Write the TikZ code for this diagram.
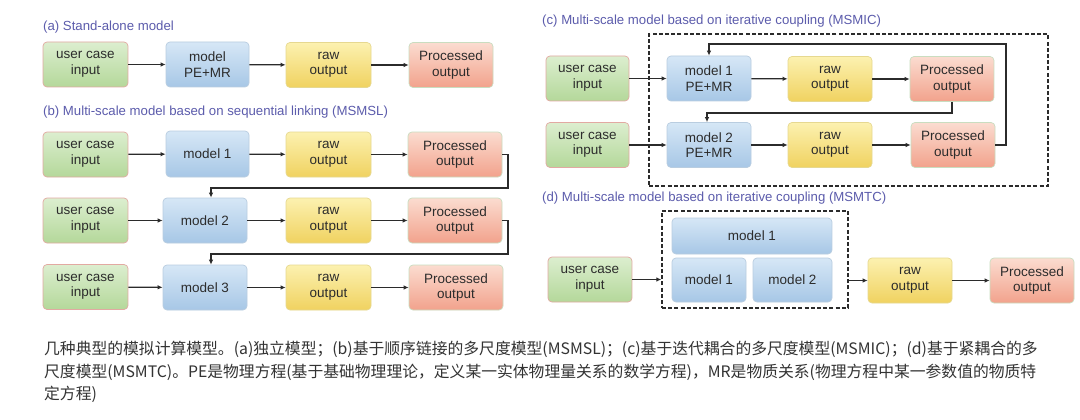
\documentclass[tikz,border=0pt]{standalone}
\usepackage{fontspec}
\setmainfont{Liberation Sans}
\newfontfamily\cjk{Noto Sans CJK SC}
\usetikzlibrary{arrows.meta,shadings}
\definecolor{txt}{HTML}{2C2C2C}
\definecolor{captc}{HTML}{333333}
\definecolor{ttlc}{RGB}{92,92,172}
\definecolor{ucT}{HTML}{DCEECF}
\definecolor{ucB}{HTML}{B4D89A}
\definecolor{ucD}{HTML}{E2A9A2}
\definecolor{mdT}{HTML}{D6E7F6}
\definecolor{mdB}{HTML}{A7C7E6}
\definecolor{mdD}{HTML}{B9CDE0}
\definecolor{rwT}{HTML}{FCF1B0}
\definecolor{rwB}{HTML}{F0D260}
\definecolor{rwD}{HTML}{E6D890}
\definecolor{prT}{HTML}{FBDCD0}
\definecolor{prB}{HTML}{F2A28C}
\definecolor{prD}{HTML}{C9DDC0}
\definecolor{linec}{HTML}{2B2B2B}
\begin{document}
\begin{tikzpicture}[x=1pt,y=-1pt,
  box/.style={rounded corners=4pt, align=center, inner sep=0pt, minimum height=45pt,
    font=\fontsize{13.5}{15.5}\selectfont, text=txt, line width=0.7pt},
  ucase/.style={box, draw=ucD, top color=ucT, bottom color=ucB, minimum width=85pt},
  mdl/.style={box, draw=mdD, top color=mdT, bottom color=mdB, minimum width=84pt},
  raw/.style={box, draw=rwD, top color=rwT, bottom color=rwB, minimum width=85pt},
  proc/.style={box, draw=prD, top color=prT, bottom color=prB, minimum width=84pt},
  ttl/.style={anchor=west, inner sep=0pt, text=ttlc, font=\fontsize{13.2}{15}\selectfont},
  arr/.style={draw=linec, line width=1.3pt, -{Latex[length=5pt,width=4.5pt]}},
  dbox/.style={draw=linec, line width=1.3pt, dash pattern=on 4pt off 2.2pt, inner sep=0pt}
]
\useasboundingbox[fill=white] (0,0) rectangle (1080,420);

% (a)
\node[ttl] (ta) at (43,27) {(a) Stand-alone model};
\node[ucase] (a1) at (85.5,64.5) {user case\\input};
\node[mdl, minimum width=83pt] (a2) at (207.5,64.5) {model\\PE+MR};
\node[raw] (a3) at (328.5,65) {raw\\output};
\node[proc] (a4) at (451,65) {Processed\\output};
\draw[arr] (a1) -- (a2);
\draw[arr] (a2) -- (a3);
\draw[arr] (a3) -- (a4);

% (b)
\node[ttl] (tb) at (43,112) {(b) Multi-scale model based on sequential linking (MSMSL)};
\node[ucase] (b11) at (85.5,154.5) {user case\\input};
\node[mdl, minimum width=83pt, minimum height=46pt] (b12) at (207.5,154) {model 1};
\node[raw] (b13) at (328.5,154.5) {raw\\output};
\node[proc, minimum width=94pt] (b14) at (455,154.5) {Processed\\output};
\node[ucase] (b21) at (85.5,220.5) {user case\\input};
\node[mdl] (b22) at (205,220.5) {model 2};
\node[raw] (b23) at (328.5,220.5) {raw\\output};
\node[proc, minimum width=94pt] (b24) at (455,220.5) {Processed\\output};
\node[ucase] (b31) at (85.5,287) {user case\\input};
\node[mdl] (b32) at (205,287.5) {model 3};
\node[raw] (b33) at (328.5,287.5) {raw\\output};
\node[proc, minimum width=94pt] (b34) at (456,287.5) {Processed\\output};
\foreach \r in {1,2,3}{
  \draw[arr] (b\r1) -- (b\r2);
  \draw[arr] (b\r2) -- (b\r3);
  \draw[arr] (b\r3) -- (b\r4);
}
\coordinate (kb1) at (508,188);
\coordinate (kb2) at (508,254);
\draw[arr] (b14.east) -| (kb1) -| ([xshift=6pt]b22.north);
\draw[arr] (b24.east) -| (kb2) -| ([xshift=6pt]b32.north);

% (c)
\node[ttl] (tc) at (542,21) {(c) Multi-scale model based on iterative coupling (MSMIC)};
\node[dbox, minimum width=399pt, minimum height=152pt] (cbox) at (848.5,110) {};
\node[ucase, minimum width=83pt] (c11) at (587.5,78.5) {user case\\input};
\node[mdl] (c12) at (709,78.5) {model 1\\PE+MR};
\node[raw, minimum width=84pt] (c13) at (830,79) {raw\\output};
\node[proc] (c14) at (952,79) {Processed\\output};
\node[ucase, minimum width=83pt] (c21) at (587.5,145) {user case\\input};
\node[mdl] (c22) at (709,145) {model 2\\PE+MR};
\node[raw, minimum width=84pt] (c23) at (830,145) {raw\\output};
\node[proc] (c24) at (953,145) {Processed\\output};
\foreach \r in {1,2}{
  \draw[arr] (c\r1) -- (c\r2);
  \draw[arr] (c\r2) -- (c\r3);
  \draw[arr] (c\r3) -- (c\r4);
}
\coordinate (kc1) at (1006,44);
\coordinate (kc2) at (952,113);
\draw[arr] (c24.east) -| (kc1) -| (c12.north);
\draw[arr] (c14.south) -- (kc2) -| ([xshift=-2pt]c22.north);

% (d)
\node[ttl] (td) at (542,198) {(d) Multi-scale model based on iterative coupling (MSMTC)};
\node[dbox, minimum width=186pt, minimum height=97pt] (dbx) at (755,259.5) {};
\node[ucase, minimum width=84pt] (d1) at (590,279.5) {user case\\input};
\node[mdl, minimum width=160pt, minimum height=36pt] (dm0) at (752,236) {model 1};
\node[mdl, minimum width=74pt, minimum height=44pt] (dm1) at (709,280) {model 1};
\node[mdl, minimum width=79pt, minimum height=44pt] (dm2) at (792.5,280) {model 2};
\node[raw, minimum width=84pt] (d3) at (910,280.5) {raw\\output};
\node[proc] (d4) at (1032,280.5) {Processed\\output};
\draw[arr] (d1.east) -- (d1.east -| dbx.west);
\draw[arr] (d3.west -| dbx.east) -- (d3.west);
\draw[arr] (d3) -- (d4);

% caption
\node[anchor=north west, inner sep=0pt, align=left, text=captc,
  font=\cjk\fontsize{15.8}{22.5}\selectfont] (cap) at (44,341)
  {几种典型的模拟计算模型。(a)独立模型；(b)基于顺序链接的多尺度模型(MSMSL)；(c)基于迭代耦合的多尺度模型(MSMIC)；(d)基于紧耦合的多\\
   尺度模型(MSMTC)。PE是物理方程(基于基础物理理论，定义某一实体物理量关系的数学方程)，MR是物质关系(物理方程中某一参数值的物质特\\
   定方程)};
\end{tikzpicture}
\end{document}
